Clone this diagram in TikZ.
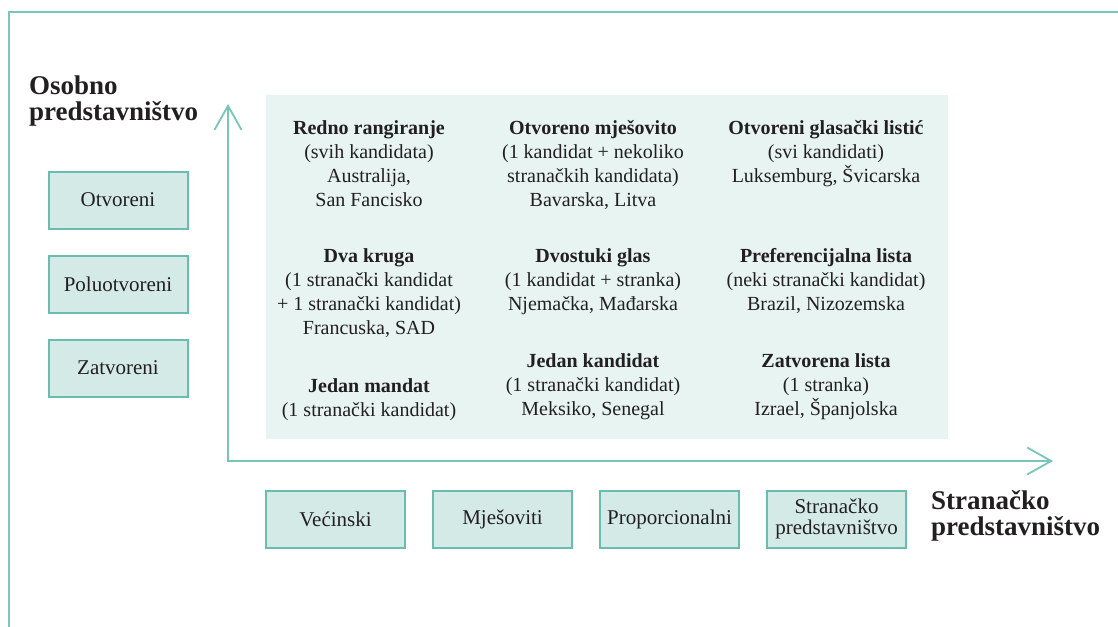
\documentclass[tikz,border=0pt]{standalone}
\usepackage{fontspec}
\setmainfont{Liberation Serif}
\usetikzlibrary{arrows.meta}
\definecolor{framec}{HTML}{7CC6BB}
\definecolor{axisc}{HTML}{78C5BA}
\definecolor{boxline}{HTML}{6ABBB0}
\definecolor{boxfill}{HTML}{D4EAE7}
\definecolor{panelc}{HTML}{E7F4F2}
\definecolor{ink}{HTML}{231F20}
\begin{document}
\begin{tikzpicture}[x=1pt,y=-1pt,
  framestyle/.style={draw=framec, line width=2pt},
  panelstyle/.style={fill=panelc},
  axisstyle/.style={draw=axisc, line width=1.8pt,
    {Straight Barb[length=24pt, width=27pt, line width=1.8pt]}-{Straight Barb[length=24pt, width=27pt, line width=1.8pt]}},
  catbox/.style={draw=boxline, fill=boxfill, line width=2pt, minimum width=139pt,
    minimum height=57pt, inner sep=0pt, align=center, text=ink,
    font=\fontsize{21}{21}\selectfont},
  cell/.style={anchor=base, align=center, inner sep=0pt, text=ink,
    font=\fontsize{20}{24}\selectfont},
  axislabel/.style={anchor=base west, align=left, inner sep=0pt, text=ink,
    font=\fontsize{27}{25.5}\selectfont\bfseries}]
\useasboundingbox (0,0) rectangle (1118,626);
% outer frame
\draw[framestyle] (9,640) -- (9,12) -- (1130,12);
% panel
\fill[panelstyle] (266,95) rectangle (948,439);
% axes
\coordinate (ytop) at (228,104);
\coordinate (origin) at (228,461);
\coordinate (xend) at (1053,461);
\draw[axisstyle] (ytop) -- (origin) -- (xend);
% axis labels (anchored on the baseline of the last line)
\node[axislabel] (ylab) at (29,120) {Osobno\\predstavništvo};
\node[axislabel] (xlab) at (931,535) {Stranačko\\predstavništvo};
% left category boxes
\node[catbox] (otv) at (118,200) {Otvoreni};
\node[catbox] (polu) at (118,284) {Poluotvoreni};
\node[catbox] (zatv) at (118,368) {Zatvoreni};
% bottom category boxes
\node[catbox] (vec) at (335.5,519) {Većinski};
\node[catbox] (mjes) at (502.5,519) {Mješoviti};
\node[catbox] (prop) at (669.5,519) {Proporcionalni};
\node[catbox] (stran) at (836.5,519) {Stranačko\\predstavništvo};
% grid cells (anchored on the baseline of the last line)
\node[cell] (c11) at (369,206) {\textbf{Redno rangiranje}\\(svih kandidata)\\Australija,\\San Fancisko};
\node[cell] (c12) at (593,206) {\textbf{Otvoreno mješovito}\\(1 kandidat + nekoliko\\stranačkih kandidata)\\Bavarska, Litva};
\node[cell] (c13) at (826,182) {\textbf{Otvoreni glasački listić}\\(svi kandidati)\\Luksemburg, Švicarska};
\node[cell] (c21) at (369,334) {\textbf{Dva kruga}\\(1 stranački kandidat\\+ 1 stranački kandidat)\\Francuska, SAD};
\node[cell] (c22) at (593,310) {\textbf{Dvostuki glas}\\(1 kandidat + stranka)\\Njemačka, Mađarska};
\node[cell] (c23) at (826,310) {\textbf{Preferencijalna lista}\\(neki stranački kandidat)\\Brazil, Nizozemska};
\node[cell] (c31) at (369,416) {\textbf{Jedan mandat}\\(1 stranački kandidat)};
\node[cell] (c32) at (593,415) {\textbf{Jedan kandidat}\\(1 stranački kandidat)\\Meksiko, Senegal};
\node[cell] (c33) at (826,415) {\textbf{Zatvorena lista}\\(1 stranka)\\Izrael, Španjolska};
\end{tikzpicture}
\end{document}
